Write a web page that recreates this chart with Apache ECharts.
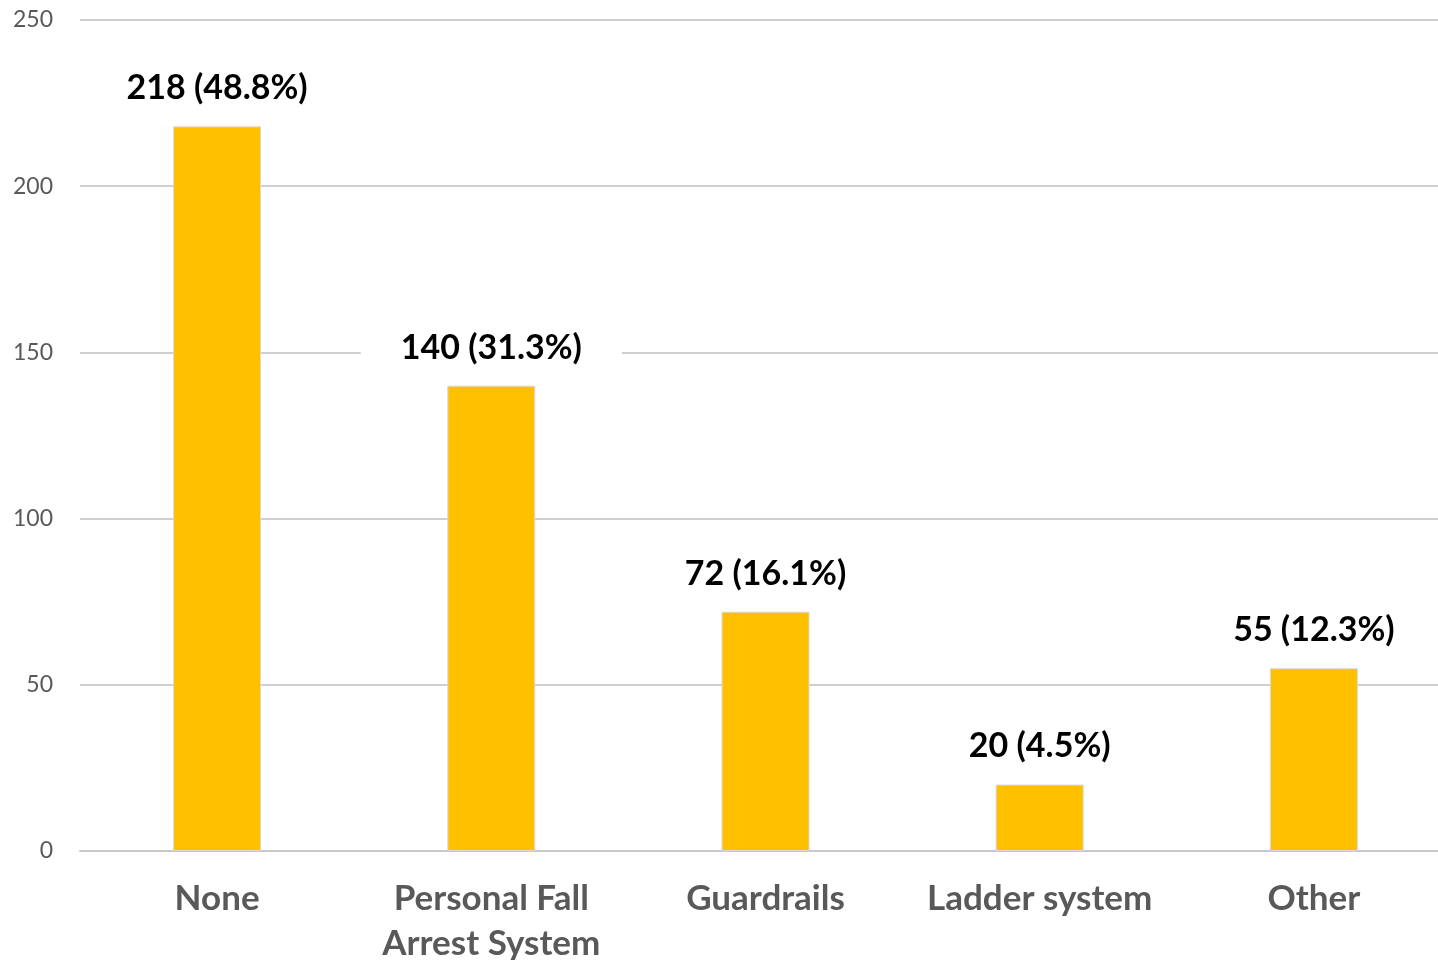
<!DOCTYPE html>
<html>
<head>
<meta charset="utf-8">
<title>Fall protection used</title>
<script src="https://cdn.jsdelivr.net/npm/echarts@6/dist/echarts.min.js"></script>
<style>
  html, body { margin: 0; padding: 0; background: #ffffff; }
  #chart { width: 1438px; height: 960px; }
</style>
</head>
<body>
<div id="chart"></div>
<script>
// Fall protection in place: counts and share of total
const categories = ['None', 'Personal Fall\nArrest System', 'Guardrails', 'Ladder system', 'Other'];
const counts = [218, 140, 72, 20, 55];
const shares = ['48.8%', '31.3%', '16.1%', '4.5%', '12.3%'];
const yTicks = { min: 0, max: 250, interval: 50 };

const chart = echarts.init(document.getElementById('chart'));

chart.setOption({
  animation: false,
  backgroundColor: '#ffffff',
  grid: { left: 80, top: 20, width: 1371, height: 831, containLabel: false, outerBoundsMode: 'none' },
  xAxis: {
    type: 'category',
    data: categories,
    axisTick: { show: false },
    axisLine: { show: true, lineStyle: { color: '#c8c8c8', width: 2 } },
    axisLabel: {
      color: '#595959',
      fontFamily: 'Lato',
      fontWeight: 'bold',
      fontSize: 35,
      lineHeight: 45,
      margin: 25,
      interval: 0
    }
  },
  yAxis: {
    type: 'value',
    min: yTicks.min,
    max: yTicks.max,
    interval: yTicks.interval,
    axisLine: { show: false },
    axisTick: { show: false },
    splitLine: { lineStyle: { color: '#cfcfcf', width: 2 } },
    axisLabel: {
      color: '#595959',
      fontFamily: 'Lato',
      fontSize: 23,
      margin: 27
    }
  },
  series: [{
    type: 'bar',
    data: counts,
    barWidth: 88,
    itemStyle: { color: '#FFC000', borderColor: '#d9d9d9', borderWidth: 1 },
    label: {
      show: true,
      position: 'top',
      distance: 18,
      formatter: p => p.value + ' (' + shares[p.dataIndex] + ')',
      color: '#000000',
      fontFamily: 'Lato',
      fontWeight: 'bold',
      fontSize: 34,
      lineHeight: 32,
      backgroundColor: '#ffffff',
      padding: [4, 40]
    }
  }]
});
</script>
</body>
</html>
